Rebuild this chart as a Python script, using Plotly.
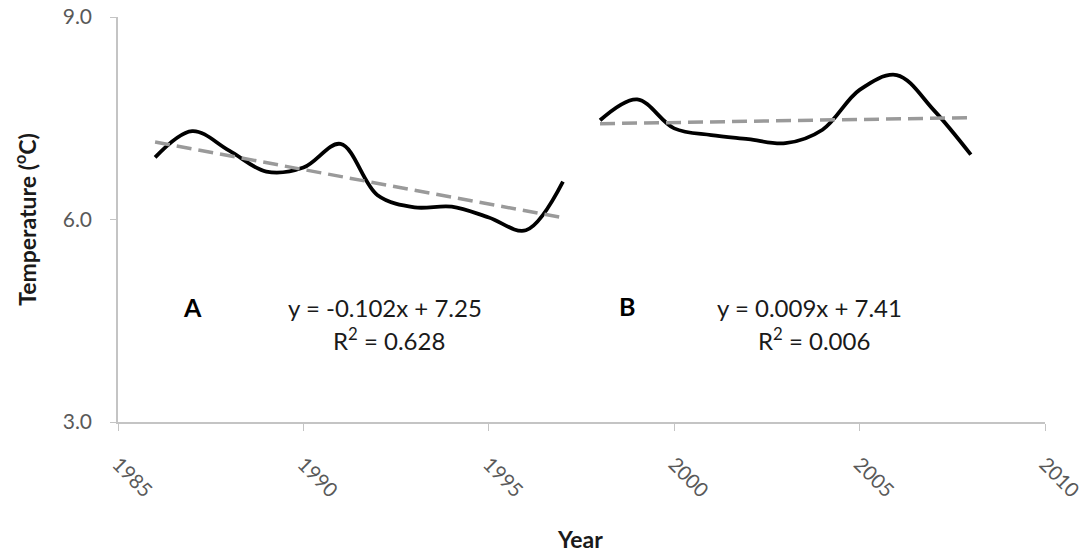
import plotly.graph_objects as go

years_a = [1986, 1987, 1988, 1989, 1990, 1991, 1992, 1993, 1994, 1995, 1996, 1997]
temp_a = [6.92, 7.31, 7.02, 6.71, 6.77, 7.12, 6.36, 6.18, 6.19, 6.03, 5.84, 6.56]
years_b = [1998, 1999, 2000, 2001, 2002, 2003, 2004, 2005, 2006, 2007, 2008]
temp_b = [7.47, 7.78, 7.35, 7.25, 7.19, 7.13, 7.33, 7.92, 8.14, 7.62, 6.96]
slope_a, icpt_a = -0.102, 7.25
slope_b, icpt_b = 0.009, 7.41
trend_a = [icpt_a + slope_a * (i + 1) for i in range(len(years_a))]
trend_b = [icpt_b + slope_b * (i + 1) for i in range(len(years_b))]
x_ticks = [1985, 1990, 1995, 2000, 2005, 2010]
y_ticks = [3.0, 6.0, 9.0]

FONT = "Lato, 'Open Sans', sans-serif"
AXIS_COL = "#C4C4C4"
TICK_COL = "#595959"
TEXT_COL = "#1a1a1a"

fig = go.Figure()
fig.add_trace(go.Scatter(x=years_a, y=temp_a, mode="lines",
                         line=dict(color="black", width=3.8, shape="spline", smoothing=1.0),
                         showlegend=False))
fig.add_trace(go.Scatter(x=years_a, y=trend_a, mode="lines",
                         line=dict(color="#9A9A9A", width=3.5, dash="15px,7px"),
                         showlegend=False))
fig.add_trace(go.Scatter(x=years_b, y=temp_b, mode="lines",
                         line=dict(color="black", width=3.8, shape="spline", smoothing=1.0),
                         showlegend=False))
fig.add_trace(go.Scatter(x=years_b, y=trend_b, mode="lines",
                         line=dict(color="#9A9A9A", width=3.5, dash="15px,7px"),
                         showlegend=False))

annos = [
    dict(x=1987.0, y=4.71, text="<b>A</b>", font=dict(size=25, color="black")),
    dict(x=1992.2, y=4.69, text="y = -0.102x + 7.25", font=dict(size=24, color=TEXT_COL)),
    dict(x=1992.3, y=4.23, text="R<sup>2</sup> = 0.628", font=dict(size=24, color=TEXT_COL)),
    dict(x=1998.73, y=4.72, text="<b>B</b>", font=dict(size=25, color="black")),
    dict(x=2003.66, y=4.69, text="y = 0.009x + 7.41", font=dict(size=24, color=TEXT_COL)),
    dict(x=2003.77, y=4.23, text="R<sup>2</sup> = 0.006", font=dict(size=24, color=TEXT_COL)),
]
for a in annos:
    fig.add_annotation(xref="x", yref="y", showarrow=False, xanchor="center", yanchor="middle", **a)

fig.add_annotation(xref="paper", yref="paper", x=0.498, y=-0.289, text="<b>Year</b>",
                   showarrow=False, xanchor="center", yanchor="middle",
                   font=dict(size=23, color=TEXT_COL))

fig.update_layout(
    width=1086, height=554,
    margin=dict(l=118, r=41, t=17, b=132, autoexpand=False),
    paper_bgcolor="white", plot_bgcolor="white",
    font=dict(family=FONT),
    xaxis=dict(range=[1985, 2010], tickvals=x_ticks, ticktext=[str(v) for v in x_ticks],
               tickangle=45, showgrid=False, zeroline=False, showline=True, automargin=False,
               linecolor=AXIS_COL, linewidth=1.5, ticks="outside", ticklen=7,
               tickcolor=AXIS_COL, tickfont=dict(size=20, color=TICK_COL),
               ticklabelstandoff=14),
    yaxis=dict(range=[3, 9], tickvals=y_ticks, ticktext=["%.1f" % v for v in y_ticks],
               showgrid=False, zeroline=False, showline=True, automargin=False,
               linecolor=AXIS_COL, linewidth=1.5, ticks="outside", ticklen=6,
               tickcolor=AXIS_COL, tickfont=dict(size=21, color=TICK_COL),
               ticklabelstandoff=14,
               title=dict(text="<b>Temperature (<sup>o</sup>C)</b>", font=dict(size=23, color=TEXT_COL),
                          standoff=20)),
)

fig.write_html("out.html")
